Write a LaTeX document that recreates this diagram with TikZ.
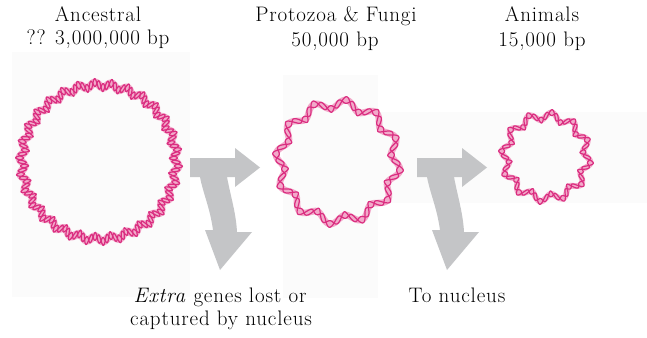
\documentclass[tikz,border=0pt]{standalone}
\usepackage{fontspec}
\setmainfont{Latin Modern Roman}[LetterSpace=4]

% Circular DNA ring: a scalloped double helix on a pale ribbon
% #1,#2 centre, #3 mean radius, #4 scallop depth, #5 scallop count,
% #6 helix half-width, #7 number of helix turns
\newcommand\dnaring[7]{%
  \draw[ribbon, line width=2*#6 pt] plot[domain=0:360,samples=900,smooth]
    ({#1+(#3+#4*sin(#5*\x))*cos(\x)},
     {#2+(#3+#4*sin(#5*\x))*sin(\x)});
  \draw[strand] plot[domain=0:360,samples=1200,smooth]
    ({#1+(#3+#4*sin(#5*\x)+#6*cos(#7*mod(\x,360/#7)))*cos(\x)},
     {#2+(#3+#4*sin(#5*\x)+#6*cos(#7*mod(\x,360/#7)))*sin(\x)});
  \draw[strand] plot[domain=0:360,samples=1200,smooth]
    ({#1+(#3+#4*sin(#5*\x)-#6*cos(#7*mod(\x,360/#7)))*cos(\x)},
     {#2+(#3+#4*sin(#5*\x)-#6*cos(#7*mod(\x,360/#7)))*sin(\x)});
}

\definecolor{dnapink}{RGB}{218,45,128}
\definecolor{dnalight}{RGB}{242,170,202}
\definecolor{arrowgray}{RGB}{196,197,199}
\definecolor{panel}{RGB}{251,251,251}

\begin{document}
\begin{tikzpicture}[x=1pt,y=-1pt,
  title/.style={font=\fontsize{21}{23}\selectfont, inner sep=0pt, anchor=base, text=black},
  note/.style={font=\fontsize{21}{23}\selectfont, inner sep=0pt, anchor=base, text=black},
  strand/.style={dnapink, line width=1.2pt},
  ribbon/.style={dnalight},
  branch/.pic={
    \fill[arrowgray] (0,0) -- (45,0) -- (45,-10) -- (70,9.5) -- (45,29) -- (45,19)
      -- (37,19) .. controls (41,40) and (46,55) .. (47,74)
      -- (62,74) -- (30,112) -- (15,72) -- (23,72)
      .. controls (20,50) and (13,35) .. (10,19) -- (0,19) -- cycle;
  }
]
\useasboundingbox (0,0) rectangle (647,337);
\fill[white] (0,0) rectangle (647,337);

% faint backing panels
\fill[panel] (12,52) rectangle (190,297);
\fill[panel] (283,75) rectangle (378,298);
\fill[panel] (378,112) rectangle (647,203);

% headings
\node[title] (anc1) at (98,22) {Ancestral};
\node[title] (anc2) at (98,45) {?? 3,000,000 bp};
\node[title] (pro1) at (336,22) {Protozoa \& Fungi};
\node[title] (pro2) at (335,46) {50,000 bp};
\node[title] (ani1) at (542,22) {Animals};
\node[title] (ani2) at (542,47) {15,000 bp};

% genomes
\dnaring{99}{162}{77}{2.5}{30}{4}{60}
\dnaring{338}{162}{58}{4.5}{12}{3.3}{24}
\dnaring{546}{157}{41}{3.8}{12}{2.9}{24}

% branching arrows
\pic at (190,158) {branch};
\pic at (417,158) {branch};

% captions
\node[note] (ext1) at (220,302) {\textit{Extra} genes lost or};
\node[note] (ext2) at (221,325) {captured by nucleus};
\node[note] (nuc) at (457,302) {To nucleus};
\end{tikzpicture}
\end{document}
